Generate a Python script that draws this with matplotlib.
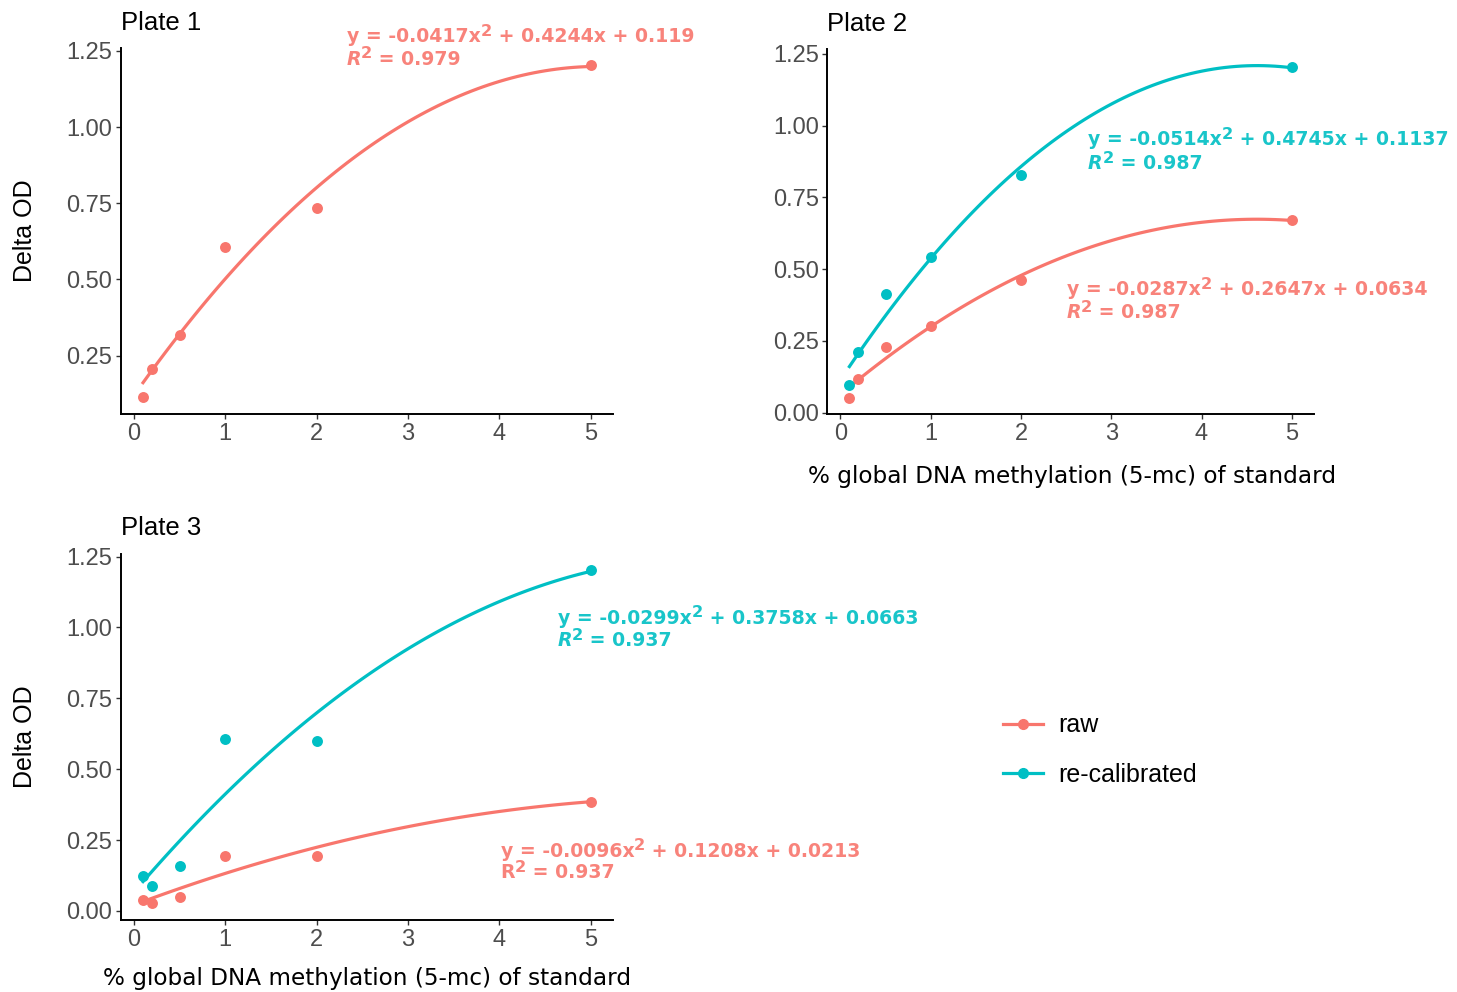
import matplotlib

matplotlib.use("Agg")
import matplotlib.pyplot as plt
import numpy as np
from matplotlib.lines import Line2D

plt.rcParams["font.family"] = ["Liberation Sans", "DejaVu Sans"]

RAW_COLOR = "#F8766D"
RECAL_COLOR = "#00BFC4"

standard_pct = [0.1, 0.2, 0.5, 1, 2, 5]

# measured Delta OD per plate
plate1_raw = [0.113, 0.207, 0.316, 0.606, 0.735, 1.204]
plate2_raw = [0.052, 0.117, 0.229, 0.302, 0.461, 0.671]
plate2_recal = [0.096, 0.210, 0.412, 0.543, 0.828, 1.205]
plate3_raw = [0.039, 0.027, 0.049, 0.195, 0.193, 0.385]
plate3_recal = [0.123, 0.088, 0.160, 0.608, 0.601, 1.202]

# quadratic fits (a, b, c) for y = a x^2 + b x + c, with R^2
plate1_raw_fit = (-0.0417, 0.4244, 0.119, 0.979)
plate2_raw_fit = (-0.0287, 0.2647, 0.0634, 0.987)
plate2_recal_fit = (-0.0514, 0.4745, 0.1137, 0.987)
plate3_raw_fit = (-0.0096, 0.1208, 0.0213, 0.937)
plate3_recal_fit = (-0.0299, 0.3758, 0.0663, 0.937)

X_LABEL = "% global DNA methylation (5-mc) of standard"
Y_LABEL = "Delta OD"

EQ_SIZE = 13.6


def fit_runs(fit, italic_r=True):
    # (text, superscript, italic) pieces for the two label lines
    a, b, c, r2 = fit
    line1 = [(f"y = {a:g}x", False, False), ("2", True, False),
             (f" + {b:g}x + {c:g}", False, False)]
    line2 = [("R", False, italic_r), ("2", True, False), (f" = {r2:.3f}", False, False)]
    return line1, line2


def draw_runs(fig, ax, x, y, runs, color):
    renderer = fig.canvas.get_renderer()
    offset = 0.0
    for text, sup, italic in runs:
        t = ax.annotate(text, xy=(x, y), xycoords="data",
                        xytext=(offset, 4.6 if sup else 0), textcoords="offset points",
                        color=color, fontsize=EQ_SIZE * (0.86 if sup else 1.0),
                        family="DejaVu Sans", fontweight="bold",
                        fontstyle="italic" if italic else "normal",
                        ha="left", va="baseline", annotation_clip=False,
                        zorder=4, alpha=0.9)
        offset += t.get_window_extent(renderer).width * 72.0 / fig.dpi


def draw_series(ax, y, fit, color):
    x = np.asarray(standard_pct, dtype=float)
    ax.scatter(x, y, s=62, color=color, zorder=3, linewidths=0)
    xs = np.linspace(x.min(), x.max(), 80)
    a, b, c, _ = fit
    ax.plot(xs, a * xs**2 + b * xs + c, color=color, linewidth=2.3, zorder=2)


def put_label(fig, ax, fit, color, x, y1, y2, italic_r=True):
    line1, line2 = fit_runs(fit, italic_r)
    draw_runs(fig, ax, x, y1, line1, color)
    draw_runs(fig, ax, x, y2, line2, color)


def style_axes(ax, title, yticks):
    for side in ("top", "right"):
        ax.spines[side].set_visible(False)
    for side in ("left", "bottom"):
        ax.spines[side].set_linewidth(1.4)
        ax.spines[side].set_color("black")
    ax.set_xticks([0, 1, 2, 3, 4, 5])
    ax.set_yticks(yticks)
    ax.set_yticklabels([f"{t:.2f}" for t in yticks])
    ax.tick_params(axis="both", labelsize=17, labelcolor="#4D4D4D", color="#333333",
                   length=3.5, width=1.0)
    ax.tick_params(axis="y", pad=2.5)
    ax.tick_params(axis="x", pad=3)
    ax.margins(x=0.05, y=0.05)
    ax.annotate(title, xy=(0, 1), xycoords="axes fraction", xytext=(0, 13),
                textcoords="offset points", fontsize=18.5, ha="left",
                va="baseline", color="black")


fig = plt.figure(figsize=(14.57, 9.92), dpi=100)
ax1 = fig.add_axes([0.0828, 0.5827, 0.3379, 0.3687])
ax2 = fig.add_axes([0.5678, 0.5823, 0.3340, 0.3683])
ax3 = fig.add_axes([0.0828, 0.0726, 0.3379, 0.3694])

# Plate 1
draw_series(ax1, plate1_raw, plate1_raw_fit, RAW_COLOR)
style_axes(ax1, "Plate 1", [0.25, 0.50, 0.75, 1.00, 1.25])

# Plate 2
draw_series(ax2, plate2_raw, plate2_raw_fit, RAW_COLOR)
draw_series(ax2, plate2_recal, plate2_recal_fit, RECAL_COLOR)
style_axes(ax2, "Plate 2", [0.00, 0.25, 0.50, 0.75, 1.00, 1.25])

# Plate 3
draw_series(ax3, plate3_raw, plate3_raw_fit, RAW_COLOR)
draw_series(ax3, plate3_recal, plate3_recal_fit, RECAL_COLOR)
style_axes(ax3, "Plate 3", [0.00, 0.25, 0.50, 0.75, 1.00, 1.25])

# fit equations, placed once the axis limits are settled
put_label(fig, ax1, plate1_raw_fit, RAW_COLOR, 2.33, 1.279, 1.205)
put_label(fig, ax2, plate2_recal_fit, RECAL_COLOR, 2.74, 0.932, 0.849)
put_label(fig, ax2, plate2_raw_fit, RAW_COLOR, 2.505, 0.409, 0.329)
put_label(fig, ax3, plate3_recal_fit, RECAL_COLOR, 4.64, 1.013, 0.935)
put_label(fig, ax3, plate3_raw_fit, RAW_COLOR, 4.015, 0.192, 0.115, italic_r=False)

# axis titles
fig.text(25 / 1457, 1 - 231 / 992, Y_LABEL, rotation=90, fontsize=18, ha="center", va="center")
fig.text(25 / 1457, 1 - 737 / 992, Y_LABEL, rotation=90, fontsize=18, ha="center", va="center")
fig.text(1072 / 1457, 1 - 476 / 992, X_LABEL, family="DejaVu Sans", fontsize=16.7,
         ha="center", va="center")
fig.text(367 / 1457, 1 - 979 / 992, X_LABEL, family="DejaVu Sans", fontsize=16.7,
         ha="center", va="center")

handles = [
    Line2D([], [], color=RAW_COLOR, linewidth=2.3, marker="o", markersize=7),
    Line2D([], [], color=RECAL_COLOR, linewidth=2.3, marker="o", markersize=7),
]
fig.legend(handles, ["raw", "re-calibrated"], loc="center left",
           bbox_to_anchor=(1003 / 1457, 1 - 750 / 992), frameon=False, fontsize=18,
           handlelength=1.6, handletextpad=0.6, labelspacing=1.0, borderpad=0,
           borderaxespad=0)

fig.savefig("out.png", dpi=100)
plt.close(fig)
